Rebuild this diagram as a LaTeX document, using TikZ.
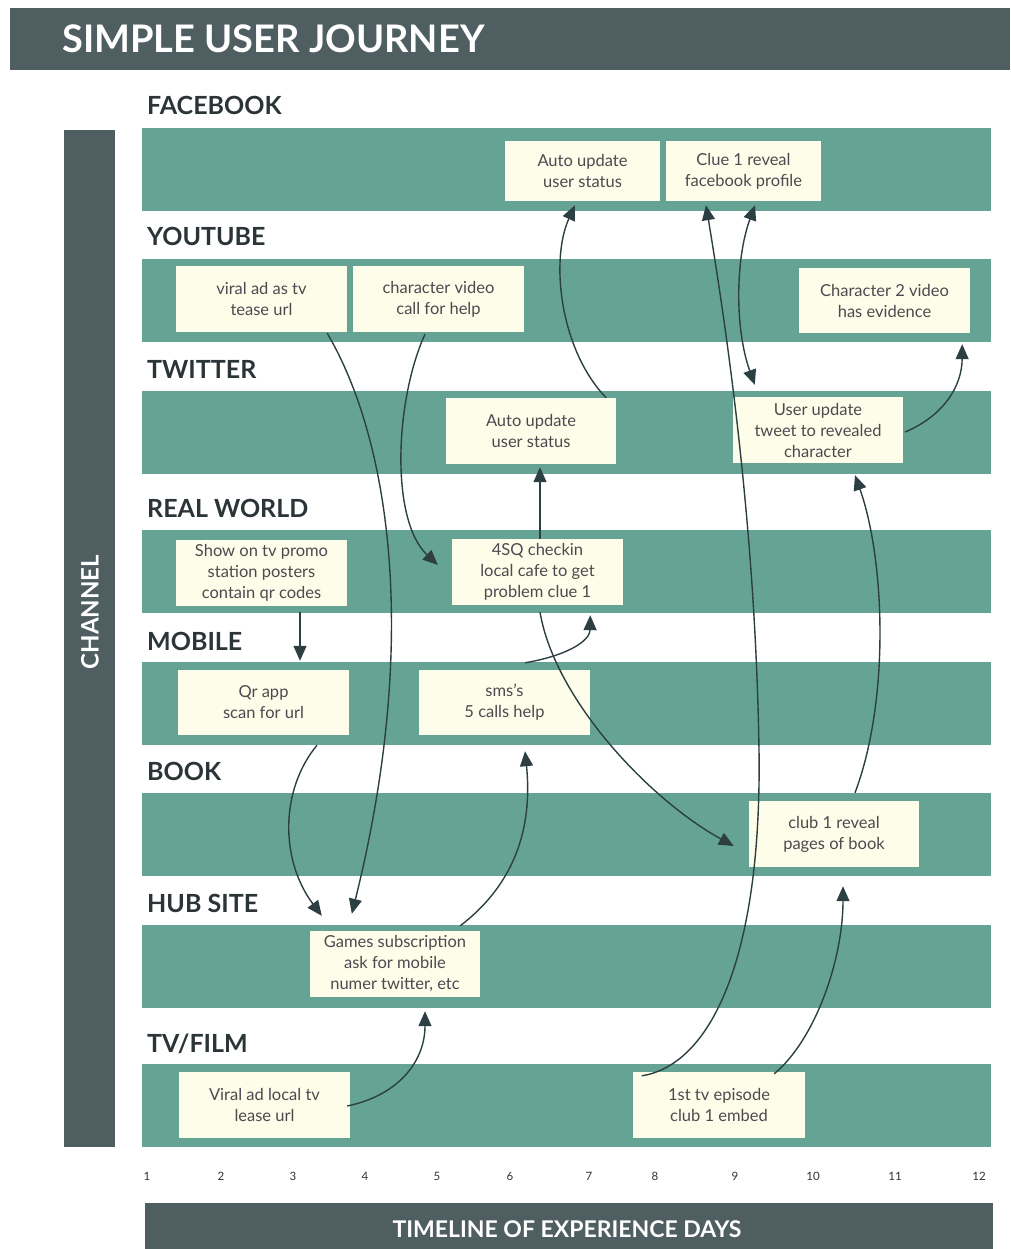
\documentclass[tikz,border=0pt]{standalone}
\usepackage{fontspec}
\setmainfont{Lato}
\usetikzlibrary{arrows.meta,calc}
\definecolor{slate}{HTML}{4F5E60}
\definecolor{teal}{HTML}{65A494}
\definecolor{cream}{HTML}{FEFDE9}
\definecolor{arrowc}{HTML}{2C3F43}
\definecolor{labelc}{HTML}{2B3437}
\definecolor{cardtext}{HTML}{4A4A50}
\begin{document}
\begin{tikzpicture}[x=1pt,y=-1pt,
  card/.style={fill=cream, draw=none, align=center, text=cardtext, inner sep=0pt,
    font=\fontsize{16.5}{21}\selectfont},
  rowlabel/.style={anchor=base west, inner sep=0pt, text=labelc, font=\bfseries\fontsize{25}{30}\selectfont},
  daynum/.style={inner sep=0pt, anchor=base, text=labelc, font=\fontsize{11.5}{13}\selectfont},
  arr/.style={draw=arrowc, line width=1.4pt, -{Triangle[length=15pt,width=13pt]}},
  darr/.style={draw=arrowc, line width=1.4pt, {Triangle[length=15pt,width=13pt]}-{Triangle[length=15pt,width=13pt]}}
]
\useasboundingbox (0,0) rectangle (1010,1249);
% header
\fill[slate] (10,8) rectangle (1010,70);
\node[anchor=base west, inner sep=0pt, text=white, font=\bfseries\fontsize{38}{42}\selectfont] (title) at (62,53) {SIMPLE USER JOURNEY};
% channel bar
\fill[slate] (64,130) rectangle (115,1147);
\node[rotate=90, inner sep=0pt, text=white, font=\bfseries\fontsize{24}{28}\selectfont] (channel) at (90,612) {CHANNEL};
% rows
\foreach \t in {128,259,391,530,662,793,925,1064}{
  \fill[teal] (142,\t) rectangle (991,\t+83);
}
% row labels
\node[rowlabel] (lfb) at (147,115) {FACEBOOK};
\node[rowlabel] (lyt) at (147,246) {YOUTUBE};
\node[rowlabel] (ltw) at (147,378) {TWITTER};
\node[rowlabel] (lrw) at (147,517) {REAL WORLD};
\node[rowlabel] (lmb) at (147,650) {MOBILE};
\node[rowlabel] (lbk) at (147,780) {BOOK};
\node[rowlabel] (lhb) at (147,912) {HUB SITE};
\node[rowlabel] (ltv) at (147,1052) {TV/FILM};
% cards
\node[card, minimum width=155pt, minimum height=60pt] (fbA) at (582.5,171) {Auto update\\user status};
\node[card, minimum width=155pt, minimum height=60pt] (fbB) at (743.5,171) {Clue 1 reveal\\facebook profile};
\node[card, minimum width=171pt, minimum height=66pt] (ytA) at (261.5,299) {viral ad as tv\\tease url};
\node[card, minimum width=171pt, minimum height=66pt] (ytB) at (438.5,299) {character video\\call for help};
\node[card, minimum width=171pt, minimum height=65pt] (ytC) at (884.5,300.5) {Character 2 video\\has evidence};
\node[card, minimum width=170pt, minimum height=66pt] (twA) at (531,431) {Auto update\\user status};
\node[card, minimum width=170pt, minimum height=66pt] (twB) at (818,430) {User update\\tweet to revealed\\character};
\node[card, minimum width=171pt, minimum height=66pt] (rwA) at (261.5,573) {Show on tv promo\\station posters\\contain qr codes};
\node[card, minimum width=171pt, minimum height=66pt] (rwB) at (537.5,572) {4SQ checkin\\local cafe to get\\problem clue 1};
\node[card, minimum width=171pt, minimum height=65pt] (mbA) at (263.5,702.5) {Qr app\\scan for url};
\node[card, minimum width=171pt, minimum height=65pt] (mbB) at (504.5,702.5) {sms’s\\5 calls help};
\node[card, minimum width=170pt, minimum height=66pt] (bkA) at (834,834) {club 1 reveal\\pages of book};
\node[card, minimum width=170pt, minimum height=66pt] (hbA) at (395,964) {Games subscription\\ask for mobile\\numer twitter, etc};
\node[card, minimum width=171pt, minimum height=66pt] (tvA) at (264.5,1105) {Viral ad local tv\\lease url};
\node[card, minimum width=172pt, minimum height=66pt] (tvB) at (719,1105) {1st tv episode\\club 1 embed};
% day numbers
\node[daynum] (d1) at (147,1180) {1};
\node[daynum] (d2) at (221,1180) {2};
\node[daynum] (d3) at (293,1180) {3};
\node[daynum] (d4) at (365,1180) {4};
\node[daynum] (d5) at (437,1180) {5};
\node[daynum] (d6) at (510,1180) {6};
\node[daynum] (d7) at (589,1180) {7};
\node[daynum] (d8) at (655,1180) {8};
\node[daynum] (d9) at (735,1180) {9};
\node[daynum] (d10) at (813,1180) {10};
\node[daynum] (d11) at (895,1180) {11};
\node[daynum] (d12) at (979,1180) {12};
% timeline bar
\fill[slate] (145,1203) rectangle (993,1249);
\node[inner sep=0pt, text=white, font=\bfseries\fontsize{23}{26}\selectfont] (timeline) at (567,1229) {TIMELINE OF EXPERIENCE DAYS};
% connectors
\draw[arr] ($(twA.north east)+(-10,0)$) .. controls (560,350) and (550,260) .. ($(fbA.south)+(-7.5,4)$);
\draw[arr] ($(tvB.north west)+(9,4)$) .. controls (710,1065) and (762,960) .. (759,750) .. controls (756,560) and (735,380) .. ($(fbB.south)+(-37.5,4)$);
\draw[darr] ($(fbB.south)+(11.5,4)$) .. controls (735,260) and (735,330) .. ($(twB.north west)+(22,-12)$);
\draw[arr] ($(twB.east)+(2,2)$) .. controls (945,415) and (962,385) .. ($(ytC.south east)+(-8,11)$);
\draw[arr] ($(ytA.south east)+(-20,1)$) .. controls (390,440) and (420,640) .. ($(hbA.north west)+(42,-17)$);
\draw[arr] ($(ytB.south)+(-13.5,2)$) .. controls (395,400) and (390,520) .. ($(rwB.west)+(-14,-7)$);
\draw[arr] ($(rwB.north)+(2.5,0)$) -- ($(twA.south)+(9,3)$);
\draw[arr] ($(rwA.south)+(38.5,6)$) -- ($(mbA.north)+(36.5,-9)$);
\draw[arr] ($(mbB.north)+(20.5,-7)$) .. controls (570,655) and (590,640) .. ($(rwB.south east)+(-33,10)$);
\draw[arr] ($(rwB.south)+(2.5,7)$) .. controls (555,700) and (650,800) .. ($(bkA.west)+(-15,12)$);
\draw[arr] ($(mbA.south)+(53.5,10)$) .. controls (280,790) and (280,860) .. ($(hbA.north west)+(12,-15)$);
\draw[arr] ($(hbA.north east)+(-20,-5)$) .. controls (520,880) and (532,820) .. ($(mbB.south)+(20.5,16)$);
\draw[arr] ($(tvA.east)+(-3,1)$) .. controls (400,1095) and (425,1060) .. ($(hbA.south)+(30,14)$);
\draw[arr] ($(tvB.north east)+(-31,2)$) .. controls (815,1040) and (843,960) .. ($(bkA.south)+(9,19)$);
\draw[arr] ($(bkA.north)+(21,-8)$) .. controls (890,700) and (885,560) .. ($(twB.south)+(37,12)$);
\end{tikzpicture}
\end{document}
